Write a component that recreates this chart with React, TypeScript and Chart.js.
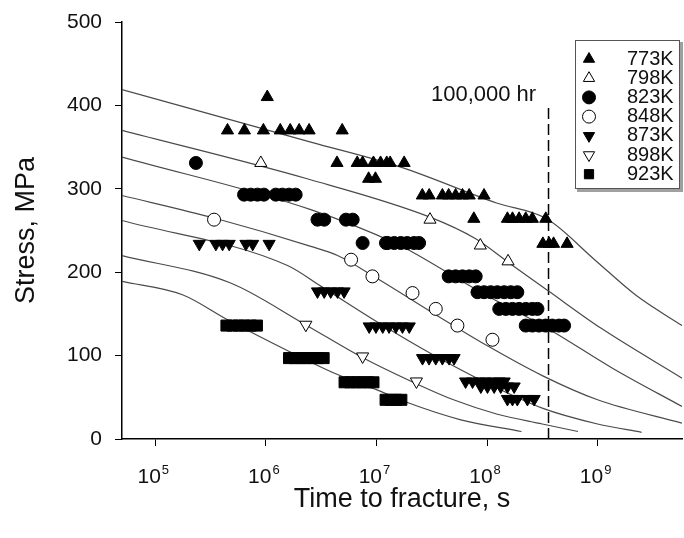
import React, { useEffect, useRef } from "react";
import { Chart, registerables } from "chart.js";

Chart.register(...registerables);

const FONT = "'Liberation Sans', Arial, Helvetica, sans-serif";

const seriesLabels = ["773K", "798K", "823K", "848K", "873K", "898K", "923K"];

// ---- measured rupture data: time to fracture (s) / stress (MPa) ----
const time773 = [1.03e6, 4.5e5, 6.4e5, 9.5e5, 1.35e6, 1.66e6, 2.0e6, 2.46e6, 4.9e6, 4.4e6, 6.7e6, 7.5e6, 9.4e6, 1.09e7, 1.24e7, 1.33e7, 1.78e7, 8.5e6, 9.8e6, 2.6e7, 3.0e7, 3.95e7, 4.5e7, 5.2e7, 6.0e7, 6.9e7, 9.4e7, 7.6e7, 1.53e8, 1.7e8, 1.95e8, 2.24e8, 2.57e8, 3.4e8, 3.2e8, 3.64e8, 4.0e8, 5.3e8];
const stress773 = [410, 370, 370, 370, 370, 370, 370, 370, 370, 331, 331, 331, 331, 331, 331, 331, 331, 312, 312, 292, 292, 292, 292, 292, 292, 292, 292, 264, 264, 264, 264, 264, 264, 264, 234, 234, 234, 234];

const time798 = [9.0e5, 3.05e7, 8.7e7, 1.55e8];
const stress798 = [331, 263, 232, 213];

const time823 = [2.33e5, 6.35e5, 7.3e5, 8.4e5, 9.6e5, 1.23e6, 1.41e6, 1.62e6, 1.86e6, 2.93e6, 3.37e6, 5.3e6, 6.1e6, 7.5e6, 1.22e7, 1.26e7, 1.45e7, 1.66e7, 1.9e7, 2.19e7, 2.43e7, 4.5e7, 5.2e7, 6.0e7, 6.9e7, 7.9e7, 8.2e7, 9.4e7, 1.08e8, 1.24e8, 1.43e8, 1.64e8, 1.88e8, 1.29e8, 1.48e8, 1.7e8, 1.95e8, 2.24e8, 2.57e8, 2.86e8, 2.24e8, 2.57e8, 2.95e8, 3.39e8, 3.89e8, 4.47e8, 4.98e8];
const stress823 = [331, 293, 293, 293, 293, 293, 293, 293, 293, 263, 263, 263, 263, 235, 235, 235, 235, 235, 235, 235, 235, 195, 195, 195, 195, 195, 176, 176, 176, 176, 176, 176, 176, 156, 156, 156, 156, 156, 156, 156, 136, 136, 136, 136, 136, 136, 136];

const time848 = [3.4e5, 5.9e6, 9.2e6, 2.12e7, 3.44e7, 5.4e7, 1.12e8];
const stress848 = [263, 215, 195, 175, 156, 136, 119];

const time873 = [2.5e5, 3.53e5, 4.06e5, 4.66e5, 6.6e5, 7.6e5, 1.07e6, 2.93e6, 3.37e6, 3.86e6, 4.45e6, 5.1e6, 8.6e6, 9.9e6, 1.14e7, 1.3e7, 1.5e7, 1.72e7, 1.98e7, 2.61e7, 2.99e7, 3.44e7, 3.95e7, 4.54e7, 5.04e7, 6.4e7, 7.4e7, 8.5e7, 9.7e7, 1.12e8, 1.29e8, 1.43e8, 8.8e7, 1.01e8, 1.16e8, 1.33e8, 1.53e8, 1.76e8, 1.53e8, 1.7e8, 1.88e8, 2.32e8, 2.67e8];
const stress873 = [234, 234, 234, 234, 234, 234, 234, 177, 177, 177, 177, 177, 135, 135, 135, 135, 135, 135, 135, 97, 97, 97, 97, 97, 97, 69, 69, 69, 69, 69, 69, 69, 63, 63, 63, 63, 63, 63, 48, 48, 48, 48, 48];

const time898 = [2.3e6, 7.5e6, 2.3e7];
const stress898 = [137, 99, 69];

const time923 = [4.4e5, 5.0e5, 5.7e5, 6.4e5, 7.3e5, 8.3e5, 1.62e6, 1.83e6, 2.06e6, 2.32e6, 2.62e6, 2.95e6, 3.33e6, 5.15e6, 5.8e6, 6.56e6, 7.4e6, 8.35e6, 9.4e6, 1.21e7, 1.35e7, 1.51e7, 1.68e7];
const stress923 = [136, 136, 136, 136, 136, 136, 97, 97, 97, 97, 97, 97, 97, 68, 68, 68, 68, 68, 68, 47, 47, 47, 47];

// ---- fitted curves ----
const fitTime773 = [5e4, 2.55e6, 1.66e7, 1.22e8, 3.47e8, 9.4e8, 2.24e9, 5.8e9];
const fitStress773 = [419, 356, 326, 283, 264, 215, 172, 136];
const fitTime798 = [5e4, 2.36e6, 3.05e7, 7.9e7, 1.55e8, 3.55e8, 1.07e9, 5.8e9];
const fitStress798 = [370, 312, 266, 240, 212, 178, 133, 73];
const fitTime823 = [5e4, 2.55e6, 1.53e7, 2.0e7, 8.8e7, 3.6e8, 1.4e9, 5.8e9];
const fitStress823 = [338, 275, 234, 226, 176, 132, 84, 39];
const fitTime848 = [5e4, 3.4e5, 2.55e6, 4.45e6, 1e7, 3.16e7, 1e8, 3.16e8, 1e9, 5.8e9];
const fitStress848 = [292, 265, 231, 220, 193, 152, 112, 76, 47, 19];
const fitTime873 = [5e4, 1.57e6, 3.16e6, 1e7, 3.16e7, 1e8, 3.16e8, 1e9, 2.5e9];
const fitStress873 = [262, 208, 183, 141, 102, 67, 37, 18, 8];
const fitTime898 = [5e4, 4.8e5, 2.22e6, 7.4e6, 2.32e7, 4.98e7, 1.22e8, 3.16e8, 6.65e8];
const fitStress898 = [220, 187, 138, 98, 66, 47, 30, 18, 9];
const fitTime923 = [5e4, 1.76e5, 4.5e5, 1.68e6, 3.98e6, 1.05e7, 1.88e7, 5.8e7, 2.05e8];
const fitStress923 = [189, 173, 143, 104, 80, 58, 44, 23, 9];

// 100,000 hr marker
const hourLineTime = [3.6e8, 3.6e8];
const hourLineStress = [0, 397];
const hourLabel = "100,000 hr";
const hourLabelTime = 9.3e7;
const hourLabelStress = 412;

// axes
const xMin = 5e4;
const xMax = 5.8e9;
const xTickValues = [1e5, 1e6, 1e7, 1e8, 1e9];
const xTickBase = "10";
const xTickExponents = ["5", "6", "7", "8", "9"];
const xTitle = "Time to fracture, s";
const yTitle = "Stress, MPa";

const measuredTimes = [time773, time798, time823, time848, time873, time898, time923];
const measuredStress = [stress773, stress798, stress823, stress848, stress873, stress898, stress923];
const fitTimes = [fitTime773, fitTime798, fitTime823, fitTime848, fitTime873, fitTime898, fitTime923];
const fitStresses = [fitStress773, fitStress798, fitStress823, fitStress848, fitStress873, fitStress898, fitStress923];

type Marker = { style: "triangle" | "circle" | "rect"; rotation: number; filled: boolean; radius: number };
const markers: Marker[] = [
  { style: "triangle", rotation: 0, filled: true, radius: 7 },
  { style: "triangle", rotation: 0, filled: false, radius: 7 },
  { style: "circle", rotation: 0, filled: true, radius: 6.5 },
  { style: "circle", rotation: 0, filled: false, radius: 6.5 },
  { style: "triangle", rotation: 180, filled: true, radius: 7 },
  { style: "triangle", rotation: 180, filled: false, radius: 7 },
  { style: "rect", rotation: 0, filled: true, radius: 7.8 },
];

const pts = (t: number[], s: number[]) => t.map((x, i) => ({ x, y: s[i] }));

function drawMarker(ctx: CanvasRenderingContext2D, m: Marker, x: number, y: number, r: number) {
  ctx.beginPath();
  if (m.style === "circle") {
    ctx.arc(x, y, r, 0, Math.PI * 2);
  } else if (m.style === "rect") {
    const h = r * Math.SQRT1_2;
    ctx.rect(x - h, y - h, 2 * h, 2 * h);
  } else {
    let a = (m.rotation * Math.PI) / 180;
    for (let k = 0; k < 3; k++) {
      const px = x + Math.sin(a) * r;
      const py = y - Math.cos(a) * r;
      if (k === 0) ctx.moveTo(px, py);
      else ctx.lineTo(px, py);
      a += (2 * Math.PI) / 3;
    }
    ctx.closePath();
  }
  ctx.fillStyle = m.filled ? "#000" : "#fff";
  ctx.fill();
  ctx.strokeStyle = "#000";
  ctx.lineWidth = 1;
  ctx.stroke();
}

const legendPlugin = {
  id: "boxLegend",
  afterDraw(chart: any) {
    const ctx: CanvasRenderingContext2D = chart.ctx;
    const x0 = 575, y0 = 40, w = 105, h = 149;
    ctx.save();
    ctx.fillStyle = "#a0a0a0";
    ctx.fillRect(x0 + 2, y0 + 2, w + 1, h + 1);
    ctx.fillStyle = "#fff";
    ctx.fillRect(x0, y0, w, h);
    ctx.strokeStyle = "#555";
    ctx.lineWidth = 1;
    ctx.strokeRect(x0 + 0.5, y0 + 0.5, w - 1, h - 1);
    ctx.font = `20px ${FONT}`;
    ctx.textAlign = "left";
    ctx.textBaseline = "middle";
    seriesLabels.forEach((label, i) => {
      const cy = y0 + 18 + i * 19.2;
      drawMarker(ctx, markers[i], 589, cy + 1, 6.5);
      ctx.fillStyle = "#111";
      ctx.fillText(label, 627, cy + 1);
    });
    ctx.restore();
  },
};

const labelPlugin = {
  id: "hourLabel",
  afterDatasetsDraw(chart: any) {
    const ctx: CanvasRenderingContext2D = chart.ctx;
    const x = chart.scales.x.getPixelForValue(hourLabelTime);
    const y = chart.scales.y.getPixelForValue(hourLabelStress);
    ctx.save();
    ctx.font = `22px ${FONT}`;
    ctx.fillStyle = "#111";
    ctx.textAlign = "center";
    ctx.textBaseline = "middle";
    ctx.fillText(hourLabel, x, y);
    ctx.restore();
  },
};

const xTickLabelPlugin = {
  id: "powerTicks",
  afterDraw(chart: any) {
    const ctx: CanvasRenderingContext2D = chart.ctx;
    const sx = chart.scales.x;
    const baseY = sx.top + 44;
    ctx.save();
    ctx.fillStyle = "#111";
    ctx.textBaseline = "alphabetic";
    ctx.textAlign = "left";
    xTickValues.forEach((v, i) => {
      const px = sx.getPixelForValue(v);
      ctx.font = `21px ${FONT}`;
      const w1 = ctx.measureText(xTickBase).width;
      ctx.font = `13px ${FONT}`;
      const w2 = ctx.measureText(xTickExponents[i]).width;
      const start = px - (w1 + w2 + 1) / 2 - 2;
      ctx.font = `21px ${FONT}`;
      ctx.fillText(xTickBase, start, baseY);
      ctx.font = `13px ${FONT}`;
      ctx.fillText(xTickExponents[i], start + w1 + 1, baseY - 9);
    });
    ctx.restore();
  },
};

const zeroPad = (s: any) => {
  s.paddingTop = 0;
  s.paddingBottom = 0;
  s.paddingLeft = 0;
  s.paddingRight = 0;
};

export default function App() {
  const ref = useRef<HTMLCanvasElement>(null);

  useEffect(() => {
    const canvas = ref.current;
    if (!canvas) return;

    const datasets: any[] = [];
    seriesLabels.forEach((label, i) => {
      const m = markers[i];
      datasets.push({
        label,
        data: pts(measuredTimes[i], measuredStress[i]),
        showLine: false,
        pointStyle: m.style,
        pointRotation: m.rotation,
        pointRadius: m.radius,
        pointHoverRadius: m.radius,
        pointBackgroundColor: m.filled ? "#000" : "#fff",
        pointBorderColor: "#000",
        pointBorderWidth: 1,
        order: 0,
      });
    });
    seriesLabels.forEach((label, i) => {
      datasets.push({
        label: label + " fit",
        data: pts(fitTimes[i], fitStresses[i]),
        showLine: true,
        borderColor: "#4a4a4a",
        borderWidth: 1.2,
        pointRadius: 0,
        cubicInterpolationMode: "monotone",
        order: 1,
      });
    });
    datasets.push({
      label: "100,000 hr",
      data: pts(hourLineTime, hourLineStress),
      showLine: true,
      borderColor: "#000",
      borderWidth: 1.5,
      borderDash: [11, 5],
      pointRadius: 0,
      order: 2,
    });

    const chart = new Chart(canvas, {
      type: "scatter",
      data: { datasets },
      options: {
        animation: false,
        responsive: false,
        devicePixelRatio: 1,
        layout: { autoPadding: false, padding: { left: 0, right: 2, top: 22, bottom: 0 } },
        plugins: { legend: { display: false }, tooltip: { enabled: false } },
        scales: {
          x: {
            type: "logarithmic",
            position: "bottom",
            min: xMin,
            max: xMax,
            afterBuildTicks: (s: any) => {
              s.ticks = xTickValues.map((v) => ({ value: v }));
            },
            afterFit: (s: any) => {
              s.height = 99;
              zeroPad(s);
            },
            grid: { drawOnChartArea: false, drawTicks: true, tickLength: 7, color: "#000", lineWidth: 1 },
            border: { display: true, color: "#000", width: 1.5 },
            ticks: {
              display: false,
              autoSkip: false,
              maxRotation: 0,
            },
            title: {
              display: true,
              text: xTitle,
              color: "#111",
              font: { family: FONT, size: 27 },
              padding: { top: 0, bottom: 22 },
            },
          },
          y: {
            type: "linear",
            min: 0,
            max: 500,
            afterFit: (s: any) => {
              s.width = 122;
              zeroPad(s);
            },
            grid: { drawOnChartArea: false, drawTicks: true, tickLength: 7, color: "#000", lineWidth: 1 },
            border: { display: true, color: "#000", width: 1.5 },
            ticks: {
              stepSize: 100,
              padding: 13,
              color: "#111",
              font: { family: FONT, size: 21 },
            },
            title: {
              display: true,
              text: yTitle,
              color: "#111",
              font: { family: FONT, size: 27 },
              padding: { top: 10, bottom: 0 },
            },
          },
        },
      },
      plugins: [labelPlugin, xTickLabelPlugin, legendPlugin],
    } as any);

    return () => chart.destroy();
  }, []);

  return (
    <div style={{ position: "absolute", left: 0, top: 0, width: 684, height: 538, background: "#fff" }}>
      <canvas ref={ref} width={684} height={538} style={{ display: "block" }} />
    </div>
  );
}
